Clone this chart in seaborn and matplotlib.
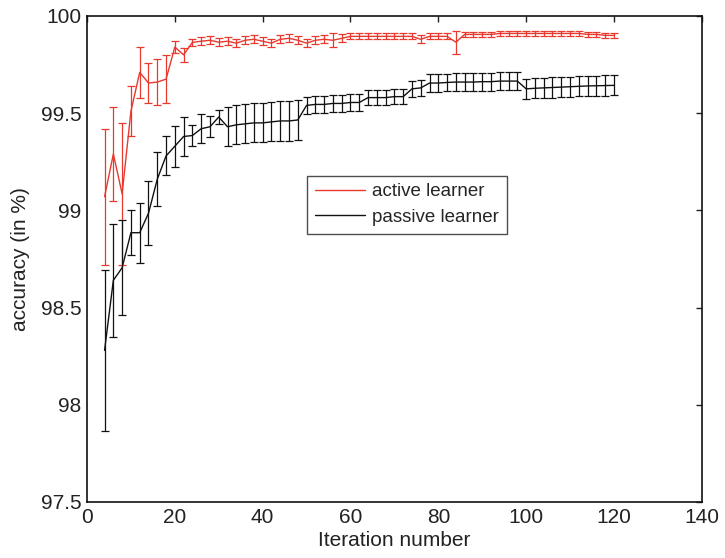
import numpy as np
import pandas as pd
import matplotlib
matplotlib.use("Agg")
import matplotlib.pyplot as plt
import seaborn as sns

iterations = list(range(4, 121, 2))

active_mean = [99.07, 99.29, 99.085, 99.51, 99.71, 99.655, 99.66, 99.675, 99.84, 99.80,
               99.864, 99.87, 99.875, 99.865, 99.87, 99.86, 99.875, 99.88, 99.87, 99.86,
               99.88, 99.885, 99.875, 99.86, 99.875, 99.88, 99.875, 99.885, 99.895, 99.895,
               99.895, 99.895, 99.895, 99.895, 99.895, 99.895, 99.88, 99.895, 99.895, 99.895,
               99.865, 99.905, 99.905, 99.905, 99.905, 99.91, 99.91, 99.91, 99.91, 99.91,
               99.91, 99.91, 99.91, 99.91, 99.91, 99.905, 99.905, 99.90, 99.90]
active_err = [0.35, 0.24, 0.365, 0.13, 0.13, 0.105, 0.12, 0.125, 0.03, 0.035,
              0.02, 0.02, 0.02, 0.02, 0.02, 0.02, 0.02, 0.02, 0.02, 0.02,
              0.02, 0.02, 0.02, 0.02, 0.02, 0.02, 0.035, 0.02, 0.015, 0.015,
              0.015, 0.015, 0.015, 0.015, 0.015, 0.015, 0.02, 0.015, 0.015, 0.015,
              0.06, 0.015, 0.015, 0.015, 0.015, 0.012, 0.012, 0.012, 0.012, 0.012,
              0.012, 0.012, 0.012, 0.012, 0.012, 0.012, 0.012, 0.012, 0.012]

passive_mean = [98.28, 98.64, 98.705, 98.885, 98.885, 98.985, 99.16, 99.28, 99.33, 99.38,
                99.385, 99.42, 99.43, 99.48, 99.43, 99.44, 99.445, 99.45, 99.45, 99.455,
                99.46, 99.46, 99.465, 99.54, 99.545, 99.545, 99.55, 99.55, 99.555, 99.555,
                99.58, 99.58, 99.58, 99.585, 99.585, 99.625, 99.63, 99.655, 99.655, 99.658,
                99.66, 99.66, 99.66, 99.662, 99.662, 99.665, 99.665, 99.665, 99.625, 99.628,
                99.63, 99.632, 99.634, 99.636, 99.638, 99.64, 99.641, 99.642, 99.643]
passive_err = [0.415, 0.29, 0.245, 0.115, 0.155, 0.165, 0.14, 0.10, 0.105, 0.10,
               0.055, 0.075, 0.055, 0.035, 0.10, 0.10, 0.10, 0.10, 0.10, 0.10,
               0.105, 0.105, 0.105, 0.045, 0.045, 0.045, 0.045, 0.045, 0.045, 0.045,
               0.037, 0.037, 0.037, 0.037, 0.037, 0.04, 0.04, 0.046, 0.046, 0.046,
               0.046, 0.046, 0.046, 0.046, 0.046, 0.046, 0.046, 0.046, 0.052, 0.052,
               0.052, 0.052, 0.052, 0.052, 0.052, 0.052, 0.052, 0.052, 0.052]

series_names = ["active learner", "passive learner"]
series_colors = ["#e8392f", "#111111"]

sns.set_theme(style="white")
plt.rcParams['font.family'] = ['Liberation Sans', 'DejaVu Sans']

fig = plt.figure(figsize=(7.25, 5.58), dpi=100)
ax = fig.add_axes([0.12, 0.1004, 0.848, 0.871])

df = pd.concat([
    pd.DataFrame({"iteration": iterations, "accuracy": active_mean, "learner": series_names[0]}),
    pd.DataFrame({"iteration": iterations, "accuracy": passive_mean, "learner": series_names[1]}),
])

sns.lineplot(data=df, x="iteration", y="accuracy", hue="learner",
             palette=dict(zip(series_names, series_colors)), linewidth=1.0, ax=ax)

for mean, err, col in [(active_mean, active_err, series_colors[0]),
                       (passive_mean, passive_err, series_colors[1])]:
    ax.errorbar(iterations, mean, yerr=err, fmt='none', ecolor=col,
                elinewidth=0.9, capsize=3, capthick=0.9)

ax.set_xlim(0, 140)
ax.set_ylim(97.5, 100)
ax.set_xticks(range(0, 141, 20))
ax.set_yticks([97.5, 98, 98.5, 99, 99.5, 100])
ax.set_yticklabels(["97.5", "98", "98.5", "99", "99.5", "100"])
ax.tick_params(direction='in', length=4.5, width=1, top=True, right=True,
               labelsize=15, colors='#222222', pad=4)
for s in ax.spines.values():
    s.set_color('#111111')
    s.set_linewidth(1.2)
ax.set_xlabel("Iteration number", fontsize=15, color='#222222', labelpad=3)
ax.set_ylabel("accuracy (in %)", fontsize=15, color='#222222', labelpad=8)

leg = ax.legend(loc='upper left', bbox_to_anchor=(0.358, 0.671), borderaxespad=0,
                fontsize=13.5, frameon=True, fancybox=False, edgecolor='#222222',
                handlelength=2.67, borderpad=0.4, labelspacing=0.45,
                handletextpad=0.4, title=None)
leg.get_frame().set_linewidth(1.0)

fig.savefig("out.png", dpi=100)
